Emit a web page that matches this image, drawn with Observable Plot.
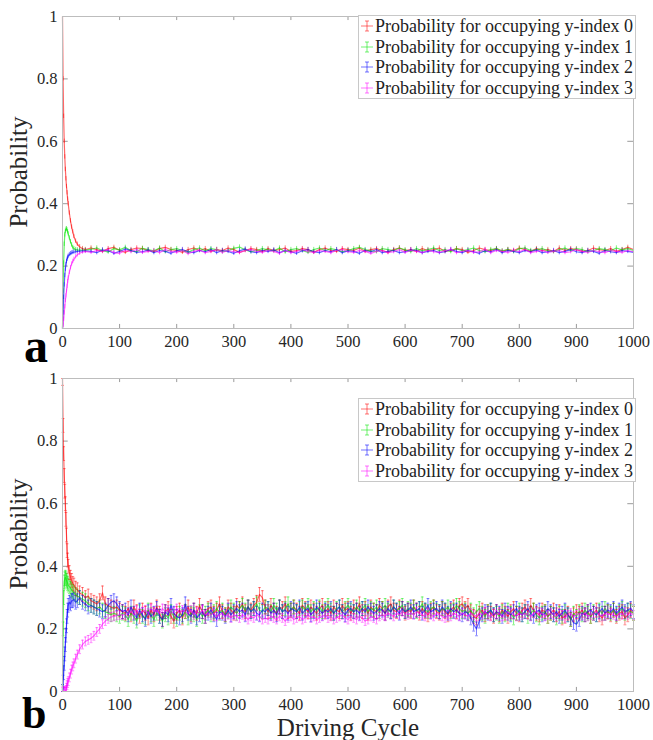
<!DOCTYPE html>
<html>
<head>
<meta charset="utf-8">
<script src="https://cdn.jsdelivr.net/npm/d3@7"></script>
<script src="https://cdn.jsdelivr.net/npm/@observablehq/plot@0.6"></script>
<style>
  html, body { margin: 0; padding: 0; background: #fff; }
  #wrap { position: relative; width: 653px; height: 740px; overflow: hidden; font-family: "Liberation Serif", serif; }
  .panel { position: absolute; left: 0; }
  .legend { position: absolute; background: #fff; border: 1px solid #c8c8c8; font-family: "Liberation Serif", serif; font-size: 18px; color: #222; padding: 0 2px 0 1px; line-height: 20.5px; white-space: nowrap; }
  .legend div { display: flex; align-items: center; }
  .legend svg { margin-right: 1px; }
  #overlay { position: absolute; left: 0; top: 0; pointer-events: none; }
</style>
</head>
<body>
<div id="wrap"></div>
<script>
// ---------- data ----------
const seriesNames = ["Probability for occupying y-index 0", "Probability for occupying y-index 1", "Probability for occupying y-index 2", "Probability for occupying y-index 3"];
const seriesColors = ["#ff0000", "#00e600", "#0000ff", "#ff00ff"];
const xTicks = [0, 100, 200, 300, 400, 500, 600, 700, 800, 900, 1000];
const yTicks = [0, 0.2, 0.4, 0.6, 0.8, 1];
const yTickLabels = ["0", "0.2", "0.4", "0.6", "0.8", "1"];

// Panel a
const cyclesEarlyA = [0,1,2,3,4,5,6,7,8,9,10,12,14,16,18,20,23,26,30,35,40];
const cyclesLateA = d3.range(50, 1001, 10);
const redA = [1.00,0.80,0.68,0.60,0.55,0.51,0.48,0.455,0.435,0.415,0.40,0.37,0.345,0.325,0.31,0.295,0.28,0.27,0.262,0.256,0.253,
 0.258,0.253,0.247,0.256,0.260,0.250,0.244,0.253,0.258,0.256,
 0.250,0.247,0.256,0.260,0.253,0.250,0.244,0.253,0.258,0.250,
 0.256,0.247,0.253,0.250,0.258,0.253,0.244,0.250,0.256,0.253,
 0.247,0.256,0.250,0.253,0.258,0.247,0.250,0.256,0.253,0.244,
 0.253,0.258,0.250,0.247,0.256,0.253,0.250,0.258,0.247,0.253,
 0.256,0.250,0.244,0.253,0.258,0.250,0.253,0.247,0.256,0.250,
 0.253,0.258,0.247,0.250,0.256,0.253,0.244,0.250,0.258,0.253,
 0.250,0.256,0.247,0.253,0.250,0.258,0.253,0.247,0.256,0.250,
 0.253,0.247,0.258,0.250,0.256,0.253,0.247,0.250,0.258,0.253,
 0.250,0.256,0.247,0.253,0.260,0.253];
const greenA = [0.00,0.12,0.21,0.27,0.30,0.312,0.318,0.32,0.316,0.31,0.303,0.29,0.278,0.268,0.26,0.256,0.253,0.252,0.251,0.251,0.251,
 0.254,0.258,0.250,0.245,0.256,0.252,0.260,0.249,0.246,0.257,
 0.253,0.249,0.258,0.246,0.253,0.256,0.250,0.244,0.253,0.258,
 0.249,0.256,0.253,0.246,0.250,0.257,0.261,0.252,0.246,0.250,
 0.256,0.252,0.249,0.258,0.245,0.253,0.256,0.250,0.244,0.253,
 0.258,0.250,0.256,0.252,0.246,0.250,0.256,0.260,0.253,0.249,
 0.246,0.256,0.253,0.250,0.258,0.252,0.246,0.256,0.249,0.253,
 0.258,0.250,0.253,0.246,0.256,0.249,0.253,0.258,0.250,0.246,
 0.253,0.256,0.249,0.253,0.246,0.256,0.258,0.250,0.253,0.256,
 0.249,0.246,0.253,0.258,0.250,0.256,0.253,0.246,0.250,0.256,
 0.253,0.249,0.258,0.252,0.256,0.250];
const blueA = [0.00,0.05,0.10,0.14,0.17,0.19,0.205,0.215,0.222,0.228,0.232,0.237,0.240,0.242,0.244,0.245,0.246,0.247,0.248,0.249,0.249,
 0.247,0.243,0.252,0.249,0.241,0.247,0.255,0.250,0.244,0.246,
 0.252,0.243,0.250,0.247,0.241,0.249,0.253,0.246,0.243,0.250,
 0.246,0.253,0.243,0.250,0.247,0.241,0.249,0.255,0.246,0.243,
 0.250,0.247,0.252,0.243,0.250,0.246,0.241,0.249,0.253,0.246,
 0.243,0.250,0.246,0.253,0.243,0.249,0.247,0.241,0.250,0.246,
 0.253,0.243,0.247,0.250,0.243,0.246,0.252,0.250,0.243,0.247,
 0.250,0.243,0.246,0.253,0.247,0.243,0.250,0.246,0.241,0.249,
 0.246,0.253,0.243,0.250,0.247,0.243,0.250,0.246,0.252,0.243,
 0.246,0.250,0.243,0.247,0.253,0.246,0.243,0.250,0.247,0.241,
 0.250,0.246,0.243,0.250,0.247,0.244];
const magentaA = [0.00,0.01,0.03,0.05,0.07,0.09,0.105,0.12,0.135,0.15,0.162,0.18,0.195,0.207,0.215,0.222,0.23,0.236,0.241,0.245,0.247,
 0.244,0.250,0.247,0.253,0.243,0.241,0.250,0.246,0.253,0.244,
 0.247,0.250,0.243,0.253,0.247,0.244,0.250,0.240,0.247,0.251,
 0.243,0.247,0.253,0.244,0.250,0.246,0.243,0.250,0.253,0.247,
 0.244,0.250,0.247,0.241,0.250,0.243,0.247,0.253,0.246,0.244,
 0.250,0.247,0.243,0.250,0.253,0.246,0.244,0.250,0.247,0.241,
 0.247,0.250,0.243,0.246,0.253,0.244,0.250,0.247,0.243,0.250,
 0.246,0.244,0.250,0.253,0.243,0.247,0.250,0.244,0.246,0.253,
 0.243,0.250,0.247,0.244,0.250,0.246,0.253,0.243,0.247,0.250,
 0.244,0.247,0.250,0.243,0.246,0.253,0.247,0.244,0.250,0.246,
 0.243,0.250,0.247,0.244,0.250,0.246];
const errA = [0.007, 0.007, 0.007, 0.007];

// Panel b
const cyclesEarlyB = [0,1,2,3,4,5,6,7,8,9,10,12,14,16,18,20,23,26,30,35,40,45,50,55,60,65,70,75,80,85,90,95,100,105];
const cyclesLateB = d3.range(110, 1001, 5);
const redB = [1.00,0.85,0.76,0.69,0.64,0.60,0.55,0.50,0.45,0.42,0.40,0.38,0.365,0.355,0.345,0.34,0.33,0.325,0.315,0.31,0.30,0.305,0.29,0.285,0.28,0.29,0.315,0.28,0.275,0.27,0.265,0.27,0.26,0.255,
 0.25,0.265,0.245,0.27,0.255,0.24,0.26,0.25,0.235,0.26,
 0.245,0.27,0.25,0.23,0.255,0.265,0.24,0.225,0.25,0.26,
 0.235,0.255,0.27,0.245,0.26,0.25,0.275,0.255,0.24,0.265,
 0.27,0.25,0.26,0.28,0.255,0.245,0.27,0.26,0.25,0.275,
 0.265,0.28,0.255,0.27,0.26,0.275,0.285,0.31,0.30,0.27,
 0.255,0.275,0.26,0.25,0.27,0.265,0.28,0.255,0.26,0.27,
 0.26,0.25,0.275,0.265,0.255,0.27,0.26,0.25,0.265,0.275,
 0.255,0.265,0.25,0.27,0.26,0.255,0.275,0.26,0.265,0.25,
 0.27,0.26,0.28,0.255,0.265,0.25,0.27,0.26,0.255,0.275,
 0.265,0.25,0.27,0.28,0.26,0.255,0.27,0.265,0.25,0.26,
 0.255,0.27,0.26,0.25,0.265,0.255,0.245,0.26,0.27,0.255,
 0.25,0.265,0.255,0.245,0.26,0.27,0.255,0.275,0.28,0.265,
 0.275,0.255,0.24,0.235,0.25,0.26,0.245,0.255,0.25,0.24,
 0.255,0.245,0.26,0.25,0.24,0.255,0.265,0.25,0.245,0.26,
 0.27,0.255,0.275,0.26,0.25,0.245,0.26,0.255,0.24,0.25,
 0.26,0.245,0.255,0.235,0.24,0.25,0.23,0.245,0.255,0.25,
 0.26,0.245,0.255,0.24,0.25,0.26,0.245,0.235,0.25,0.255,
 0.245,0.26,0.24,0.25,0.255,0.235,0.245,0.26,0.25];
const greenB = [0.00,0.20,0.30,0.35,0.36,0.365,0.36,0.355,0.35,0.345,0.34,0.335,0.33,0.325,0.32,0.315,0.31,0.305,0.30,0.295,0.29,0.28,0.275,0.27,0.265,0.27,0.26,0.255,0.25,0.245,0.25,0.245,0.24,0.25,
 0.245,0.23,0.25,0.24,0.225,0.255,0.24,0.235,0.26,0.245,
 0.23,0.25,0.24,0.225,0.245,0.235,0.255,0.24,0.23,0.25,
 0.24,0.255,0.235,0.25,0.245,0.23,0.255,0.24,0.25,0.26,
 0.245,0.255,0.265,0.25,0.26,0.245,0.255,0.27,0.26,0.25,
 0.265,0.275,0.26,0.27,0.255,0.265,0.28,0.26,0.255,0.27,
 0.265,0.255,0.275,0.26,0.27,0.255,0.265,0.28,0.26,0.27,
 0.255,0.265,0.27,0.26,0.275,0.255,0.265,0.26,0.27,0.255,
 0.265,0.275,0.26,0.25,0.265,0.27,0.255,0.265,0.275,0.26,
 0.255,0.27,0.26,0.265,0.275,0.255,0.265,0.26,0.27,0.255,
 0.265,0.275,0.26,0.255,0.27,0.26,0.265,0.275,0.255,0.265,
 0.26,0.27,0.255,0.265,0.28,0.26,0.255,0.265,0.27,0.26,
 0.255,0.265,0.26,0.27,0.255,0.26,0.275,0.265,0.255,0.26,
 0.25,0.26,0.245,0.255,0.265,0.25,0.24,0.255,0.26,0.245,
 0.25,0.24,0.255,0.245,0.26,0.25,0.235,0.25,0.26,0.245,
 0.255,0.24,0.25,0.26,0.245,0.235,0.25,0.255,0.24,0.25,
 0.245,0.235,0.25,0.24,0.255,0.245,0.23,0.25,0.24,0.255,
 0.245,0.26,0.25,0.24,0.255,0.245,0.26,0.25,0.265,0.255,
 0.25,0.26,0.245,0.255,0.265,0.25,0.26,0.255,0.25];
const blueB = [0.00,0.03,0.06,0.09,0.12,0.15,0.18,0.21,0.24,0.26,0.275,0.285,0.28,0.29,0.29,0.295,0.285,0.29,0.30,0.285,0.28,0.27,0.275,0.27,0.265,0.26,0.255,0.26,0.275,0.285,0.29,0.28,0.265,0.255,
 0.26,0.245,0.27,0.25,0.235,0.26,0.245,0.23,0.255,0.24,
 0.25,0.265,0.24,0.23,0.255,0.245,0.275,0.25,0.24,0.235,
 0.245,0.28,0.25,0.24,0.26,0.235,0.245,0.255,0.24,0.25,
 0.26,0.245,0.23,0.255,0.25,0.24,0.26,0.245,0.255,0.265,
 0.255,0.26,0.245,0.27,0.255,0.265,0.25,0.245,0.26,0.255,
 0.265,0.25,0.26,0.245,0.27,0.255,0.26,0.25,0.265,0.26,
 0.255,0.27,0.25,0.26,0.265,0.245,0.255,0.27,0.26,0.25,
 0.26,0.255,0.265,0.25,0.26,0.27,0.255,0.245,0.26,0.265,
 0.255,0.26,0.25,0.265,0.255,0.27,0.26,0.25,0.255,0.265,
 0.26,0.25,0.265,0.255,0.27,0.26,0.25,0.265,0.255,0.26,
 0.27,0.255,0.26,0.265,0.25,0.26,0.275,0.255,0.26,0.265,
 0.255,0.27,0.26,0.25,0.265,0.255,0.26,0.25,0.245,0.255,
 0.25,0.235,0.215,0.20,0.225,0.245,0.255,0.25,0.26,0.245,
 0.255,0.25,0.24,0.26,0.25,0.245,0.255,0.265,0.25,0.245,
 0.255,0.265,0.25,0.24,0.255,0.26,0.245,0.25,0.265,0.255,
 0.245,0.255,0.24,0.25,0.26,0.245,0.235,0.22,0.215,0.23,
 0.25,0.245,0.255,0.26,0.25,0.245,0.255,0.265,0.25,0.26,
 0.255,0.265,0.25,0.26,0.27,0.255,0.26,0.265,0.255];
const magentaB = [0.00,0.00,0.00,0.00,0.00,0.00,0.005,0.012,0.02,0.027,0.033,0.045,0.057,0.07,0.08,0.09,0.105,0.118,0.135,0.15,0.16,0.165,0.17,0.178,0.19,0.20,0.215,0.225,0.232,0.238,0.24,0.243,0.245,0.245,
 0.245,0.25,0.255,0.245,0.26,0.25,0.255,0.26,0.25,0.265,
 0.255,0.26,0.25,0.265,0.255,0.26,0.25,0.255,0.265,0.25,
 0.26,0.255,0.25,0.26,0.245,0.255,0.25,0.26,0.245,0.25,
 0.245,0.25,0.24,0.245,0.25,0.24,0.245,0.235,0.245,0.24,
 0.235,0.245,0.24,0.23,0.24,0.235,0.245,0.24,0.23,0.235,
 0.23,0.24,0.235,0.23,0.24,0.235,0.225,0.235,0.24,0.23,
 0.235,0.24,0.23,0.235,0.245,0.235,0.24,0.23,0.235,0.24,
 0.245,0.235,0.24,0.23,0.235,0.24,0.245,0.235,0.23,0.24,
 0.235,0.23,0.24,0.235,0.225,0.23,0.24,0.235,0.23,0.24,
 0.245,0.24,0.25,0.245,0.24,0.25,0.245,0.255,0.25,0.245,
 0.25,0.245,0.255,0.25,0.245,0.24,0.25,0.245,0.24,0.25,
 0.245,0.24,0.235,0.245,0.24,0.25,0.245,0.24,0.25,0.245,
 0.24,0.25,0.245,0.24,0.25,0.245,0.255,0.245,0.24,0.25,
 0.245,0.25,0.24,0.245,0.255,0.25,0.245,0.24,0.25,0.245,
 0.25,0.245,0.24,0.25,0.255,0.245,0.25,0.24,0.245,0.25,
 0.245,0.24,0.25,0.245,0.235,0.245,0.25,0.24,0.245,0.25,
 0.245,0.25,0.24,0.245,0.25,0.255,0.245,0.24,0.25,0.245,
 0.25,0.245,0.24,0.25,0.245,0.255,0.245,0.25,0.245];
const errB = [0.022, 0.022, 0.022, 0.014];

// ---------- build ----------
function rows(cycles, seriesList, errs) {
  const out = [];
  seriesList.forEach((vals, i) => {
    vals.forEach((v, j) => out.push({x: cycles[j], y: v, e: errs[i], s: seriesNames[i]}));
  });
  return out;
}

const FONT = "'Liberation Serif', serif";

function panel(data, top, marginTop, marginBottom, capHalf) {
  const marks = [
    Plot.ruleX(xTicks, {x: d => d, y1: 0, y2: 0.013, stroke: "#9a9a9a"}),
    Plot.ruleX(xTicks, {x: d => d, y1: 0.987, y2: 1, stroke: "#9a9a9a"}),
    Plot.ruleY(yTicks, {y: d => d, x1: 0, x2: 10, stroke: "#9a9a9a"}),
    Plot.ruleY(yTicks, {y: d => d, x1: 990, x2: 1000, stroke: "#9a9a9a"}),
    Plot.ruleX(data, {x: "x", y1: d => Math.max(0, d.y - d.e), y2: d => Math.min(1, d.y + d.e), stroke: "s", strokeOpacity: 0.5, strokeWidth: 1})
  ];
  if (capHalf > 0) {
    marks.push(Plot.link(data, {x1: d => d.x - capHalf, x2: d => d.x + capHalf, y1: d => Math.min(1, d.y + d.e), y2: d => Math.min(1, d.y + d.e), stroke: "s", strokeOpacity: 0.45}));
    marks.push(Plot.link(data, {x1: d => d.x - capHalf, x2: d => d.x + capHalf, y1: d => Math.max(0, d.y - d.e), y2: d => Math.max(0, d.y - d.e), stroke: "s", strokeOpacity: 0.45}));
  }
  marks.push(
    Plot.line(data, {x: "x", y: "y", z: "s", stroke: "s", strokeOpacity: 0.6, strokeWidth: 1.2}),
    Plot.dot(data, {x: "x", y: "y", symbol: "plus", r: 2.2, fill: "s", fillOpacity: 0.6, stroke: "none"}),
    Plot.frame({stroke: "#bdbdbd"})
  );
  const plot = Plot.plot({
    width: 653, height: 370,
    marginLeft: 62, marginRight: 20, marginTop, marginBottom,
    style: {fontFamily: FONT, fontSize: "16.5px", background: "transparent", color: "#262626"},
    x: {domain: [0, 1000], ticks: xTicks, tickFormat: d => String(d), tickSize: 0, tickPadding: 7, label: null},
    y: {domain: [0, 1], ticks: yTicks, tickFormat: d => yTickLabels[yTicks.indexOf(d)], tickSize: 0, tickPadding: 5, label: null},
    color: {domain: seriesNames, range: seriesColors},
    marks
  });
  plot.setAttribute("font-family", FONT);
  plot.style.fontFamily = FONT;
  plot.classList.add("panel");
  plot.style.top = top + "px";
  return plot;
}

function legend(left, top) {
  const box = document.createElement("div");
  box.className = "legend";
  box.style.left = left + "px";
  box.style.top = top + "px";
  seriesNames.forEach((name, i) => {
    const row = document.createElement("div");
    row.innerHTML = `<svg width="14" height="14"><g stroke="${seriesColors[i]}" stroke-opacity="0.55" stroke-width="1"><line x1="1" y1="7" x2="13" y2="7"/><line x1="7" y1="2" x2="7" y2="12"/><line x1="5" y1="2" x2="9" y2="2"/><line x1="5" y1="12" x2="9" y2="12"/></g></svg><span>${name}</span>`;
    box.appendChild(row);
  });
  return box;
}

const wrap = document.getElementById("wrap");
const dataA = rows([...cyclesEarlyA, ...cyclesLateA], [redA, greenA, blueA, magentaA], errA);
const dataB = rows([...cyclesEarlyB, ...cyclesLateB], [redB, greenB, blueB, magentaB], errB);
wrap.appendChild(panel(dataA, 0, 16, 42, 0));
wrap.appendChild(panel(dataB, 370, 8, 49, 2.5));
wrap.appendChild(legend(358, 15));
wrap.appendChild(legend(358, 398));

const ns = "http://www.w3.org/2000/svg";
const ov = document.createElementNS(ns, "svg");
ov.setAttribute("id", "overlay");
ov.setAttribute("width", 653);
ov.setAttribute("height", 740);
function addText(str, x, y, opts) {
  const t = document.createElementNS(ns, "text");
  t.textContent = str;
  t.setAttribute("x", x);
  t.setAttribute("y", y);
  t.setAttribute("font-family", FONT);
  t.setAttribute("fill", opts.fill || "#262626");
  t.setAttribute("font-size", opts.size);
  if (opts.weight) t.setAttribute("font-weight", opts.weight);
  if (opts.anchor) t.setAttribute("text-anchor", opts.anchor);
  if (opts.rotate) t.setAttribute("transform", `rotate(-90 ${x} ${y})`);
  ov.appendChild(t);
}
addText("Probability", 27, 172, {size: 25, anchor: "middle", rotate: true});
addText("Probability", 27, 534, {size: 25, anchor: "middle", rotate: true});
addText("Driving Cycle", 348, 736, {size: 25, anchor: "middle"});
addText("a", 24, 362, {size: 48, weight: "bold", fill: "#000"});
addText("b", 22, 728, {size: 44, weight: "bold", fill: "#000"});
wrap.appendChild(ov);
</script>
</body>
</html>
